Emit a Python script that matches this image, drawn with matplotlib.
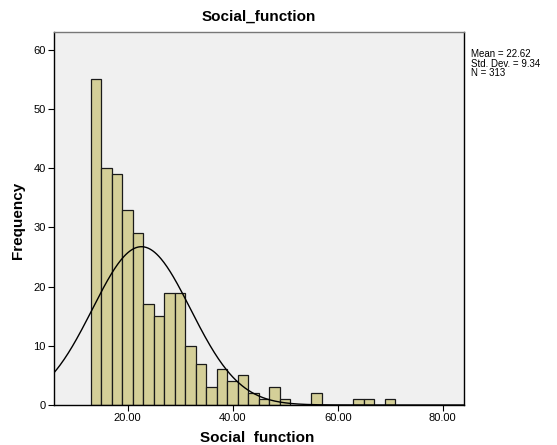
import numpy as np
import matplotlib
matplotlib.use("Agg")
import matplotlib.pyplot as plt

# Histogram of Social_function scores (bin width 2, starting at 13)
bin_starts = [13, 15, 17, 19, 21, 23, 25, 27, 29, 31, 33, 35, 37, 39, 41,
              43, 45, 47, 49, 51, 53, 55, 57, 59, 61, 63, 65, 67, 69]
counts = [55, 40, 39, 33, 29, 17, 15, 19, 19, 10, 7, 3, 6, 4, 5,
          2, 1, 3, 1, 0, 0, 2, 0, 0, 0, 1, 1, 0, 1]
bin_width = 2
mean_val = 22.62
std_val = 9.34
n_val = 313
x_ticks = [20, 40, 60, 80]
y_ticks = [0, 10, 20, 30, 40, 50, 60]

plt.rcParams['font.family'] = ['Liberation Sans', 'DejaVu Sans']

W, H = 557, 445
fig = plt.figure(figsize=(W / 100, H / 100), dpi=100)
fig.patch.set_facecolor('white')
left, right, top, bottom = 54, 464, 32, 405
ax = fig.add_axes([left / W, (H - bottom) / H, (right - left) / W, (bottom - top) / H])
ax.set_facecolor('#F0F0F0')

ax.bar(bin_starts, counts, width=bin_width, align='edge',
       color='#D4CF98', edgecolor='#1a1a1a', linewidth=0.9, zorder=2)

# Normal curve scaled to the histogram
xs = np.linspace(5.96, 84.06, 400)
ys = n_val * bin_width / (std_val * np.sqrt(2 * np.pi)) * np.exp(-0.5 * ((xs - mean_val) / std_val) ** 2)
ax.plot(xs, ys, color='black', linewidth=1.0, zorder=3)

ax.set_xlim(5.96, 84.06)
ax.set_ylim(0, 63)
ax.set_xticks(x_ticks)
ax.set_xticklabels([f"{v:.2f}" for v in x_ticks])
ax.set_yticks(y_ticks)
ax.set_yticklabels([str(v) for v in y_ticks])
ax.tick_params(axis='both', direction='out', length=4, width=0.8, labelsize=8, pad=2, colors='black')

for side in ['left', 'bottom', 'right']:
    ax.spines[side].set_color('black')
    ax.spines[side].set_linewidth(1.0)
ax.spines['top'].set_color('#777777')
ax.spines['top'].set_linewidth(1.0)

fig.text((left + right) / 2 / W, 1 - 17 / H, 'Social_function', ha='center', va='center',
         fontsize=11, fontweight='bold')
fig.text(257 / W, 1 - 438 / H, 'Social  function', ha='center', va='center',
         fontsize=11, fontweight='bold')
fig.text(18 / W, 1 - 220 / H, 'Frequency', ha='center', va='center', rotation=90,
         fontsize=11, fontweight='bold')

fig.text(471 / W, 1 - 49 / H,
         f"Mean = {mean_val:.2f}\nStd. Dev. = {std_val:.2f}\nN = {n_val}",
         ha='left', va='top', fontsize=7, linespacing=0.95)

fig.savefig('out.png', dpi=100)
